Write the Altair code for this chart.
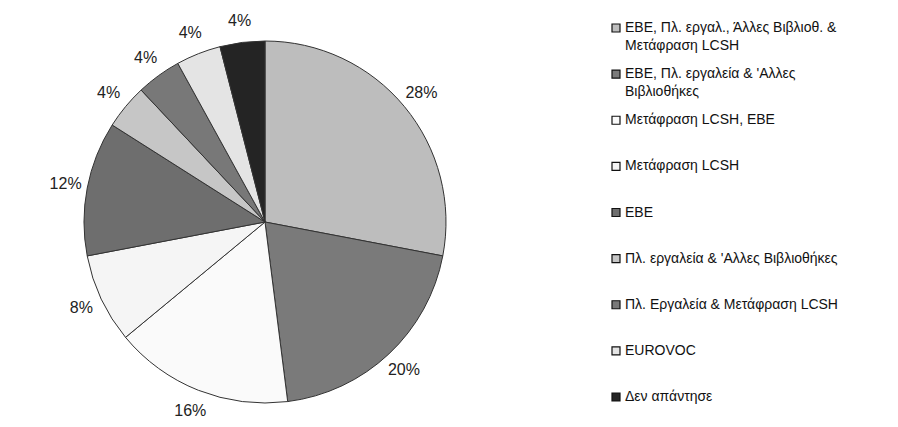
import altair as alt
import pandas as pd

labels = [
    "ΕΒΕ, Πλ. εργαλ., Άλλες Βιβλιοθ. & Μετάφραση LCSH",
    "ΕΒΕ, Πλ. εργαλεία & 'Αλλες Βιβλιοθήκες",
    "Μετάφραση LCSH, ΕΒΕ",
    "Μετάφραση LCSH",
    "ΕΒΕ",
    "Πλ. εργαλεία & 'Αλλες Βιβλιοθήκες",
    "Πλ. Εργαλεία & Μετάφραση LCSH",
    "EUROVOC",
    "Δεν απάντησε",
]
legend_lines = [
    "ΕΒΕ, Πλ. εργαλ., Άλλες Βιβλιοθ. &\nΜετάφραση LCSH",
    "ΕΒΕ, Πλ. εργαλεία & 'Αλλες\nΒιβλιοθήκες",
    "Μετάφραση LCSH, ΕΒΕ",
    "Μετάφραση LCSH",
    "ΕΒΕ",
    "Πλ. εργαλεία & 'Αλλες Βιβλιοθήκες",
    "Πλ. Εργαλεία & Μετάφραση LCSH",
    "EUROVOC",
    "Δεν απάντησε",
]
values = [28, 20, 16, 8, 12, 4, 4, 4, 4]
colors = ["#bdbdbd", "#7a7a7a", "#fafafa", "#f5f5f5", "#6e6e6e",
          "#c6c6c6", "#787878", "#e4e4e4", "#242424"]

df = pd.DataFrame({
    "label": labels,
    "disp": legend_lines,
    "value": values,
    "idx": list(range(len(labels))),
    "pct": [f"{v}%" for v in values],
})

W, H = 882, 411
CX, CY = 257, 214
FONT = "Liberation Sans"

color = alt.Color("label:N", scale=alt.Scale(domain=labels, range=colors), legend=None)
theta = alt.Theta("value:Q", stack=True)
order = alt.Order("idx:Q", sort="ascending")

base = alt.Chart(df)

pie = base.mark_arc(outerRadius=181, stroke="#333333", strokeWidth=1).encode(
    theta=theta, color=color, order=order,
    x=alt.value(CX), y=alt.value(CY),
)

pct = base.mark_text(radius=203, fontSize=16, font=FONT, color="#222222").encode(
    theta=theta, order=order, text="pct:N",
    x=alt.value(CX), y=alt.value(CY),
)

ly = alt.Y("label:N", sort=labels,
           scale=alt.Scale(type="point", range=[20, 389], padding=0), axis=None)

leg_sym = base.mark_square(size=64, stroke="#111111", strokeWidth=1.2, opacity=1).encode(
    x=alt.value(608), y=ly, color=color,
)

leg_txt = base.mark_text(align="left", baseline="top", dy=-7, lineBreak="\n",
                         lineHeight=18, fontSize=14, font=FONT, color="#111111").encode(
    x=alt.value(617), y=ly, text="disp:N",
)

chart = alt.layer(pie, pct, leg_sym, leg_txt).properties(
    width=W, height=H, padding=0, autosize=alt.AutoSizeParams(type="none"),
    background="white",
).configure_view(stroke=None)

chart.save("out.html", embed_options={"renderer": "svg", "actions": False})
